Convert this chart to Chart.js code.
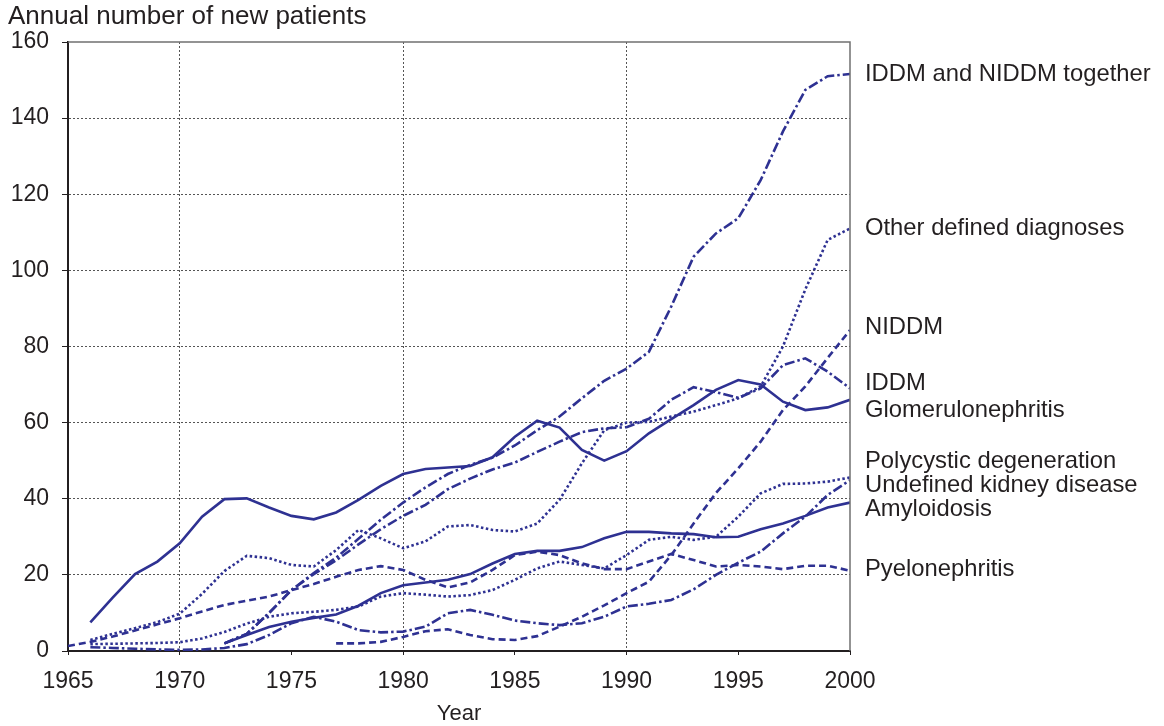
<!DOCTYPE html>
<html>
<head>
<meta charset="utf-8">
<script src="https://cdn.jsdelivr.net/npm/chart.js@4.4.1/dist/chart.umd.min.js"></script>
<style>
    body { margin: 0; background: #fff; }
    #wrap { width: 1164px; height: 726px; }
</style>
</head>
<body>
<div id="wrap"><canvas id="patientsChart" width="1164" height="726"></canvas></div>
<script>
// ================= Data =================
const years = [
    1965, 1966, 1967, 1968, 1969, 1970, 1971, 1972, 1973, 1974,
    1975, 1976, 1977, 1978, 1979, 1980, 1981, 1982, 1983, 1984,
    1985, 1986, 1987, 1988, 1989, 1990, 1991, 1992, 1993, 1994,
    1995, 1996, 1997, 1998, 1999, 2000
];

const iddmNiddm = [
    null, null, null, null, null, null, null, 2, 4.5, 10,
    16, 20.5, 24.5, 29.5, 34.5, 39, 43, 46.5, 48.9, 50.8,
    54, 58, 61.6, 66.4, 71, 74.2, 78.6, 90.5, 103.6, 109.7,
    113.7, 123.7, 136.5, 147.4, 151, 151.6
];
const otherDefined = [
    null, 2.9, 4.5, 6, 7.6, 9.8, 15, 21, 25, 24.4,
    22.6, 22.2, 26.5, 31.8, 29.6, 27, 28.8, 32.7, 33.1, 31.8,
    31.4, 33.5, 39.7, 49.3, 58, 60, 60.2, 61.6, 62.9, 64.6,
    66.4, 69.5, 80, 95, 108, 111
];
const niddm = [
    null, null, null, null, null, null, null, null, null, null,
    null, null, 2, 2, 2.4, 3.7, 5.2, 5.7, 4.2, 3.1,
    2.9, 3.9, 6.4, 9, 12, 15.2, 18.2, 25.2, 33.5, 41.5,
    48, 55, 63.3, 69.5, 77, 84.3
];
const iddm = [
    null, null, null, null, null, null, null, 2, 4.5, 10,
    16, 20.2, 23.8, 28, 32, 35.5, 38.4, 42.5, 45.3, 47.7,
    49.5, 52.3, 55, 57.5, 58.5, 58.8, 61, 66, 69.3, 68,
    66.5, 69, 75.1, 76.9, 73.4, 69
];
const glomerulonephritis = [
    null, 7.5, 14, 20.2, 23.5, 28.3, 35.3, 39.9, 40.1, 37.7,
    35.5, 34.6, 36.4, 39.7, 43.4, 46.5, 47.8, 48.2, 48.6, 50.9,
    56.3, 60.5, 58.7, 52.8, 50, 52.5, 57.2, 60.9, 64.6, 68.6,
    71.2, 70, 65.5, 63.3, 64, 66
];
const polycystic = [
    null, 1.8, 1.9, 2, 2.1, 2.3, 3.3, 5, 7.2, 9,
    9.9, 10.3, 10.8, 11.7, 14.3, 15.2, 14.8, 14.3, 14.7, 16,
    18.7, 21.7, 23.5, 22.6, 21.7, 25.2, 29.2, 30, 29.2, 30,
    35.3, 41.4, 43.9, 44, 44.5, 45.6
];
const undefinedKidney = [
    null, 1, 0.8, 0.6, 0.4, 0.3, 0.4, 0.8, 1.8, 4.2,
    7.3, 9, 7.7, 5.5, 4.9, 5.1, 6.4, 9.9, 10.8, 9.5,
    8, 7.3, 6.8, 7.3, 9, 11.7, 12.4, 13.4, 16.2, 20,
    23.2, 26.1, 30.9, 35.3, 41, 44.9
];
const amyloidosis = [
    null, null, null, null, null, null, null, 2, 4.2, 6.3,
    7.7, 8.7, 9.6, 11.9, 15.2, 17.3, 18, 18.7, 20.2, 23,
    25.5, 26.3, 26.3, 27.3, 29.6, 31.3, 31.3, 30.9, 30.7, 29.9,
    30, 32, 33.5, 35.5, 37.7, 39
];
const pyelonephritis = [
    1.3, 2.4, 3.8, 5.4, 7, 8.6, 10.4, 12.1, 13.2, 14.3,
    16, 17.6, 19.5, 21.3, 22.3, 21.3, 18.7, 16.7, 18, 21.3,
    25.2, 26.1, 25.2, 23, 21.5, 21.5, 23.5, 25.5, 23.9, 22.2,
    22.6, 22.2, 21.5, 22.4, 22.4, 21.1
];

const seriesNames = [
    "IDDM and NIDDM together",
    "Other defined diagnoses",
    "NIDDM",
    "IDDM",
    "Glomerulonephritis",
    "Polycystic degeneration",
    "Undefined kidney disease",
    "Amyloidosis",
    "Pyelonephritis"
];
const seriesValues = [
    iddmNiddm, otherDefined, niddm, iddm, glomerulonephritis,
    polycystic, undefinedKidney, amyloidosis, pyelonephritis
];
// where each name sits on the y axis, right of the plot
const labelValues = [151.6, 110.9, 84.9, 70.2, 63.1, 49.7, 43.4, 37.3, 21.3];

const yTicks = [0, 20, 40, 60, 80, 100, 120, 140, 160];
const xTicks = [1965, 1970, 1975, 1980, 1985, 1990, 1995, 2000];

// ================= Styles =================
const LINE = "#2e3192";
const INK = "#231f20";
const GRID = "#555555";
const FONT = "'Liberation Sans', Arial, sans-serif";

const DASH_DOT = [10, 3, 2.5, 3];
const DASHED = [7, 4];
const DOTTED = [2.5, 2.5];
const seriesDash = [DASH_DOT, DOTTED, DASHED, DASH_DOT, [], DOTTED, DASH_DOT, [], DASHED];

const datasets = seriesValues.map((vals, i) => ({
    label: seriesNames[i],
    data: years.map((yr, j) => ({ x: yr, y: vals[j] })),
    borderColor: LINE,
    borderWidth: 2.6,
    borderDash: seriesDash[i],
    pointRadius: 0,
    tension: 0,
    fill: false,
    spanGaps: false
}));

// ================= Extras: frame, title, end labels =================
const extrasPlugin = {
    id: "extras",
    afterDraw(chart) {
        const { ctx, chartArea } = chart;
        const yScale = chart.scales.y;
        ctx.save();
        // top and right frame
        ctx.strokeStyle = "#707070";
        ctx.lineWidth = 1.5;
        ctx.beginPath();
        ctx.moveTo(chartArea.left, chartArea.top);
        ctx.lineTo(chartArea.right, chartArea.top);
        ctx.lineTo(chartArea.right, chartArea.bottom);
        ctx.stroke();

        ctx.fillStyle = INK;
        ctx.textBaseline = "middle";
        ctx.textAlign = "left";
        ctx.font = "26px " + FONT;
        ctx.fillText("Annual number of new patients", 8, 17);

        ctx.font = "23.8px " + FONT;
        seriesNames.forEach((name, i) => {
            ctx.fillText(name, chartArea.right + 15, yScale.getPixelForValue(labelValues[i]));
        });
        ctx.restore();
    }
};

new Chart(document.getElementById("patientsChart"), {
    type: "line",
    data: { datasets: datasets },
    options: {
        responsive: false,
        animation: false,
        layout: {
            padding: { left: 0, top: 42, right: 314, bottom: 0 }
        },
        plugins: {
            legend: { display: false },
            tooltip: { enabled: false }
        },
        scales: {
            x: {
                type: "linear",
                min: 1965,
                max: 2000,
                afterBuildTicks: (scale) => {
                    scale.ticks = xTicks.map(v => ({ value: v }));
                },
                afterFit: (scale) => { scale.height = 75; },
                ticks: {
                    color: INK,
                    font: { family: FONT, size: 23 },
                    padding: 13,
                    maxRotation: 0,
                    callback: (v) => String(v)
                },
                grid: {
                    color: (c) => (c.tick && [1970, 1980, 1990].includes(c.tick.value)) ? GRID : "transparent",
                    tickColor: INK,
                    tickLength: 4,
                    lineWidth: 1
                },
                border: { color: INK, width: 2, dash: [2, 2] },
                title: {
                    display: true,
                    text: "Year",
                    color: INK,
                    font: { family: FONT, size: 22 },
                    padding: { top: 0, bottom: -1 }
                }
            },
            y: {
                min: 0,
                max: 160,
                afterBuildTicks: (scale) => {
                    scale.ticks = yTicks.map(v => ({ value: v }));
                },
                afterFit: (scale) => { scale.width = 68; },
                ticks: {
                    color: INK,
                    font: { family: FONT, size: 23 },
                    padding: 13
                },
                grid: {
                    color: (c) => (c.tick && c.tick.value > 0 && c.tick.value < 160) ? GRID : "transparent",
                    tickColor: INK,
                    tickLength: 6,
                    lineWidth: 1
                },
                border: { color: INK, width: 2, dash: [2, 2] }
            }
        }
    },
    plugins: [extrasPlugin]
});
</script>
</body>
</html>
